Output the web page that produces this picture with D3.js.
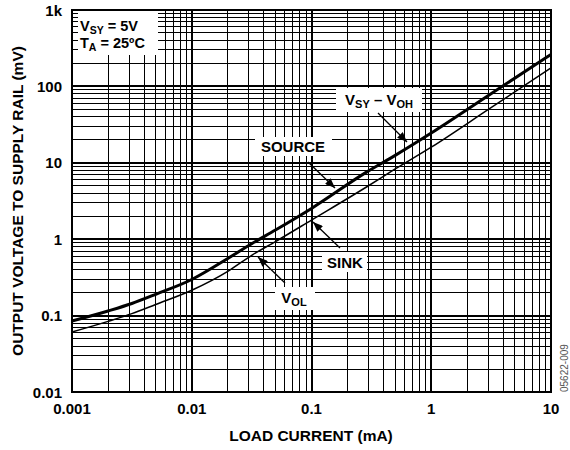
<!DOCTYPE html>
<html>
<head>
<meta charset="utf-8">
<script src="https://cdn.jsdelivr.net/npm/d3@7"></script>
<style>
  body { margin: 0; background: #fff; }
  text { font-family: "Liberation Sans", Arial, sans-serif; font-weight: bold; fill: #000; }
</style>
</head>
<body>
<div class="chart"></div>
<script>
// Output voltage to supply rail vs load current (log-log)

// data
var loadCurrent = [0.001, 0.002, 0.00316, 0.005, 0.01, 0.02, 0.0319, 0.05, 0.1, 0.29, 0.5, 1, 3, 10];
var sourceMv    = [0.085, 0.115, 0.144, 0.19, 0.297, 0.56, 0.88, 1.32, 2.53, 7.6, 12.5, 24.5, 76, 262];
var sinkMv      = [0.061, 0.084, 0.106, 0.14, 0.215, 0.38, 0.62, 0.93, 1.78, 4.86, 8.3, 16, 50, 175];

var xTickValues = [0.001, 0.01, 0.1, 1, 10];
var xTickLabels = ["0.001", "0.01", "0.1", "1", "10"];
var yTickValues = [0.01, 0.1, 1, 10, 100, 1000];
var yTickLabels = ["0.01", "0.1", "1", "10", "100", "1k"];

var W = 570, H = 450;
var L = 72, R = 551, T = 10, B = 392;

var svg = d3.select(".chart").append("svg")
    .attr("width", W)
    .attr("height", H);

var x = d3.scaleLog().domain([0.001, 10]).range([L, R]);
var y = d3.scaleLog().domain([0.01, 1000]).range([B, T]);

function isMajor(v) {
  var l = Math.log10(v);
  return Math.abs(l - Math.round(l)) < 1e-9;
}

// grid
var grid = svg.append("g").attr("stroke", "#000").attr("shape-rendering", "crispEdges");
grid.selectAll("line.vx")
    .data(x.ticks())
    .enter().append("line")
    .attr("x1", function(d) { return x(d); })
    .attr("x2", function(d) { return x(d); })
    .attr("y1", T).attr("y2", B)
    .attr("stroke-width", function(d) { return isMajor(d) ? 2 : 1; });
grid.selectAll("line.hy")
    .data(y.ticks())
    .enter().append("line")
    .attr("y1", function(d) { return y(d); })
    .attr("y2", function(d) { return y(d); })
    .attr("x1", L).attr("x2", R)
    .attr("stroke-width", function(d) { return isMajor(d) ? 2 : 1; });

// white label boxes (hide grid behind text)
var boxes = [
  [78, 11, 80, 44],
  [336, 88, 86, 24],
  [255, 137, 77, 19],
  [322, 252, 45, 20],
  [275, 287, 40, 23]
];
svg.selectAll("rect.box")
    .data(boxes)
    .enter().append("rect")
    .attr("x", function(d) { return d[0]; })
    .attr("y", function(d) { return d[1]; })
    .attr("width", function(d) { return d[2]; })
    .attr("height", function(d) { return d[3]; })
    .attr("fill", "#fff");

// frame
svg.append("rect")
    .attr("x", L).attr("y", T)
    .attr("width", R - L).attr("height", B - T)
    .attr("fill", "none").attr("stroke", "#000").attr("stroke-width", 2);

// curves
var line = d3.line()
    .x(function(d) { return x(d[0]); })
    .y(function(d) { return y(d[1]); })
    .curve(d3.curveMonotoneX);

svg.append("path")
    .datum(d3.zip(loadCurrent, sinkMv))
    .attr("d", line)
    .attr("fill", "none").attr("stroke", "#000").attr("stroke-width", 1.5);
svg.append("path")
    .datum(d3.zip(loadCurrent, sourceMv))
    .attr("d", line)
    .attr("fill", "none").attr("stroke", "#000").attr("stroke-width", 3);

// arrows
svg.append("defs").append("marker")
    .attr("id", "head")
    .attr("viewBox", "0 0 10 8")
    .attr("refX", 10).attr("refY", 4)
    .attr("markerWidth", 10).attr("markerHeight", 8)
    .attr("markerUnits", "userSpaceOnUse")
    .attr("orient", "auto")
  .append("path")
    .attr("d", "M0,0 L10,4 L0,8 z")
    .attr("fill", "#000");

var arrows = [
  [378, 113, 407, 142],
  [308, 162, 335, 188],
  [340, 248, 313, 222],
  [285, 283, 258, 257]
];
svg.selectAll("line.arrow")
    .data(arrows)
    .enter().append("line")
    .attr("x1", function(d) { return d[0]; })
    .attr("y1", function(d) { return d[1]; })
    .attr("x2", function(d) { return d[2]; })
    .attr("y2", function(d) { return d[3]; })
    .attr("stroke", "#000").attr("stroke-width", 1.3)
    .attr("marker-end", "url(#head)");

// labels
function subLabel(xp, yp, parts) {
  var t = svg.append("text")
      .attr("x", xp).attr("y", yp)
      .attr("text-anchor", "middle")
      .style("font-size", "15px");
  parts.forEach(function(p) {
    t.append("tspan")
      .attr("dy", p[1] ? 3 : (p[2] || 0))
      .style("font-size", p[1] ? "11px" : "15px")
      .text(p[0]);
  });
  return t;
}

// conditions box
svg.append("text").attr("x", 80).attr("y", 31).style("font-size", "14.5px")
  .call(function(t) {
    t.append("tspan").text("V");
    t.append("tspan").attr("dy", 3).style("font-size", "10.5px").text("SY");
    t.append("tspan").attr("dy", -3).text(" = 5V");
  });
svg.append("text").attr("x", 80).attr("y", 48).style("font-size", "14.5px")
  .call(function(t) {
    t.append("tspan").text("T");
    t.append("tspan").attr("dy", 3).style("font-size", "10.5px").text("A");
    t.append("tspan").attr("dy", -3).text(" = 25\u00BAC");
  });

subLabel(379, 105, [["V"], ["SY", true], [" \u2013 V", false, -3], ["OH", true]]);
svg.append("text").attr("x", 293).attr("y", 152).attr("text-anchor", "middle")
    .style("font-size", "15px").text("SOURCE");
svg.append("text").attr("x", 345).attr("y", 268).attr("text-anchor", "middle")
    .style("font-size", "15px").text("SINK");
subLabel(294, 303, [["V"], ["OL", true]]);

// tick labels
svg.selectAll("text.xt")
    .data(xTickValues)
    .enter().append("text")
    .attr("x", function(d) { return x(d); })
    .attr("y", 414)
    .attr("text-anchor", "middle")
    .style("font-size", "15px")
    .text(function(d, i) { return xTickLabels[i]; });
svg.selectAll("text.yt")
    .data(yTickValues)
    .enter().append("text")
    .attr("x", 62)
    .attr("y", function(d) { return y(d) + 5.5; })
    .attr("text-anchor", "end")
    .style("font-size", "15px")
    .text(function(d, i) { return yTickLabels[i]; });

// axis titles
svg.append("text")
    .attr("x", 311).attr("y", 441)
    .attr("text-anchor", "middle")
    .style("font-size", "15.5px")
    .text("LOAD CURRENT (mA)");
svg.append("text")
    .attr("transform", "translate(23," + ((T + B) / 2) + ") rotate(-90)")
    .attr("text-anchor", "middle")
    .style("font-size", "15.5px")
    .text("OUTPUT VOLTAGE TO SUPPLY RAIL (mV)");

// figure code
svg.append("text")
    .attr("transform", "translate(567.5,392) rotate(-90)")
    .style("font-size", "10px").style("font-weight", "normal").style("fill", "#555")
    .text("05622-009");
</script>
</body>
</html>
